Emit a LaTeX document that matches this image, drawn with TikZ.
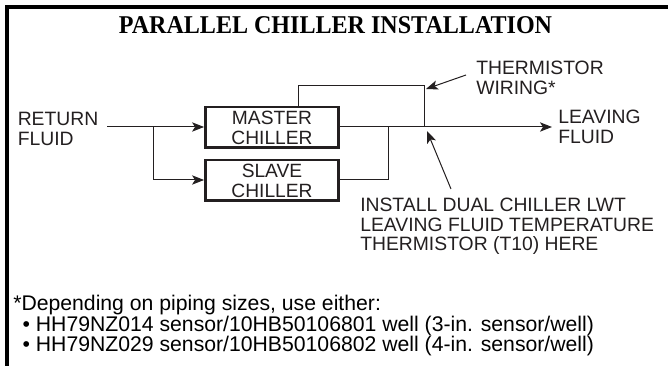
\documentclass[tikz,border=0pt]{standalone}
\usepackage{fontspec}
\setmainfont{Liberation Sans}
\newfontfamily\titlefont[FakeStretch=0.94]{Liberation Serif}
\usetikzlibrary{arrows.meta}
\definecolor{inkgray}{HTML}{231F20}
\tikzset{
    chiller/.style={draw=inkgray, line width=1.9pt, minimum width=100pt, minimum height=30.4pt, inner sep=0pt, align=center, text=inkgray, font=\fontsize{14.4}{15}\selectfont},
    label/.style={inner sep=0pt, align=left, anchor=north west, text=inkgray, font=\fontsize{14.5}{14.7}\selectfont},
    pipe/.style={draw=inkgray, line width=0.75pt},
    flow/.style={pipe, -{Stealth[length=9pt,width=7pt,inset=2.2pt]}}
}
\begin{document}
\begin{tikzpicture}[x=0.75pt,y=-0.75pt]
    \useasboundingbox (0,0) rectangle (668,366);
    \coordinate (frameleft) at (7,366);
    \coordinate (framecorner) at (7,7);
    \coordinate (frametop) at (668,7);
    \draw [line width=3pt, line join=miter] (frameleft) -- (framecorner) -- (frametop);

    \node (title) at (335.5,34) [inner sep=0pt, anchor=base, font=\titlefont\bfseries\fontsize{19.2}{20}\selectfont] {PARALLEL CHILLER INSTALLATION};

    \node (master) at (272,127.5) [chiller] {MASTER\\CHILLER};
    \node (slave) at (272,180.5) [chiller] {SLAVE\\CHILLER};

    \node (return) at (17.5,112) [label] {RETURN\\FLUID};
    \node (leaving) at (558,110) [label] {LEAVING\\FLUID};
    \node (wiring) at (476,61) [label] {THERMISTOR\\WIRING*};
    \node (install) at (360,198) [label] {INSTALL DUAL CHILLER LWT\\LEAVING FLUID TEMPERATURE\\THERMISTOR (T10) HERE};
    \node (note) at (13,295) [inner sep=0pt, align=left, anchor=north west, font=\fontsize{15.9}{15.5}\selectfont] {*Depending on piping sizes, use either:\\
        \hspace*{7pt}\textbullet\ HH79NZ014 sensor/10HB50106801 well (3-in. sensor/well)\\
        \hspace*{7pt}\textbullet\ HH79NZ029 sensor/10HB50106802 well (4-in. sensor/well)};

    \coordinate (returnend) at (107,127);
    \coordinate (split) at (153,127);
    \coordinate (splitlow) at (153,180);
    \coordinate (join) at (388,127);
    \coordinate (joinlow) at (388,180);
    \coordinate (sensor) at (424,127);
    \coordinate (wiretop) at (424,86);
    \coordinate (wirestart) at (298,86);
    \coordinate (leavingend) at (552,127);
    \coordinate (wiringtail) at (466,75);
    \coordinate (wiringtip) at (426,89);
    \coordinate (installtail) at (451,189);
    \coordinate (installtip) at (427,131);

    \draw [flow] (returnend) -- (returnend -| master.west);
    \draw [flow] (split) -- (splitlow) -- (splitlow -| slave.west);
    \draw [flow] (master.east |- leavingend) -- (leavingend);
    \draw [pipe] (slave.east |- joinlow) -- (joinlow) -- (join);
    \draw [pipe] (wirestart |- master.north) -- (wirestart) -- (wiretop) -- (sensor);
    \draw [flow] (wiringtail) -- (wiringtip);
    \draw [flow] (installtail) -- (installtip);
\end{tikzpicture}
\end{document}
